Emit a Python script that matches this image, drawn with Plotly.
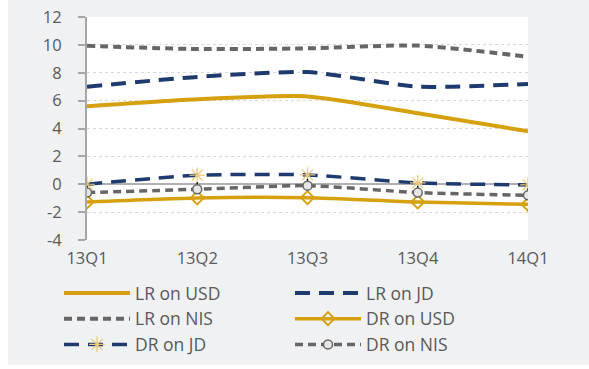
import plotly.graph_objects as go

categories = ["13Q1", "13Q2", "13Q3", "13Q4", "14Q1"]
lr_usd = [5.6, 6.1, 6.3, 5.1, 3.8]
lr_jd = [7.0, 7.7, 8.05, 7.0, 7.2]
lr_nis = [9.93, 9.7, 9.75, 9.95, 9.15]
dr_usd = [-1.27, -0.98, -0.96, -1.27, -1.44]
dr_jd = [0.0, 0.65, 0.67, 0.1, -0.05]
dr_nis = [-0.6, -0.36, -0.1, -0.6, -0.79]
dr_nis_bar = [0.5, 0.5, 0.5, 0.5, 0.5]
y_ticks = [-4, -2, 0, 2, 4, 6, 8, 10, 12]
y_labels = ["-4", "-2", "0", "2", "4", "6", "8", "10", "12"]

GOLD = "#D6A00F"
NAVY = "#1F3A6E"
GREY = "#666666"
FONT = "Open Sans"
TXT = "#595959"

PL, PR, PT, PB = 87, 528, 17, 240
PW, PH = PR - PL, PB - PT

fig = go.Figure()
fig.add_trace(go.Scatter(x=categories, y=lr_usd, name="LR on USD", mode="lines",
                         line=dict(color=GOLD, width=4, shape="spline", smoothing=0.6)))
fig.add_trace(go.Scatter(x=categories, y=lr_jd, name="LR on JD", mode="lines",
                         line=dict(color=NAVY, width=4, dash="15px,9px", shape="spline", smoothing=0.6)))
fig.add_trace(go.Scatter(x=categories, y=lr_nis, name="LR on NIS", mode="lines",
                         line=dict(color=GREY, width=4, dash="8px,5px", shape="spline", smoothing=0.6)))
fig.add_trace(go.Scatter(x=categories, y=dr_usd, name="DR on USD", mode="lines+markers",
                         line=dict(color=GOLD, width=3.5, shape="spline", smoothing=0.6),
                         marker=dict(symbol="diamond-open", size=10, color=GOLD, line=dict(width=2, color=GOLD))))
fig.add_trace(go.Scatter(x=categories, y=dr_jd, name="DR on JD", mode="lines+markers",
                         line=dict(color=NAVY, width=3.5, dash="15px,9px", shape="spline", smoothing=0.6),
                         marker=dict(symbol="asterisk-open", size=13, color="#EBC876", line=dict(width=1.2, color="#EBC876"))))
fig.add_trace(go.Scatter(x=categories, y=dr_nis, name="DR on NIS", mode="lines+markers",
                         line=dict(color=GREY, width=3.5, dash="8px,5px", shape="spline", smoothing=0.6),
                         error_y=dict(type="data", symmetric=False, array=dr_nis_bar,
                                      arrayminus=[0] * len(dr_nis_bar), width=0, color="#111111", thickness=1.5),
                         marker=dict(symbol="circle", size=9, color="#E6E6E6", line=dict(width=1.5, color=GREY))))

fig.update_layout(
    width=589, height=369,
    margin=dict(l=PL, r=589 - PR, t=PT, b=369 - PB, autoexpand=False),
    paper_bgcolor="#F0F1F3",
    plot_bgcolor="white",
    font=dict(family=FONT, size=16.5, color=TXT),
    showlegend=True,
    legend=dict(orientation="h", x=(59 - PL) / PW, xanchor="left", y=(PB - 275) / PH, yanchor="top",
                entrywidth=150, entrywidthmode="pixels", itemwidth=66,
                font=dict(size=17.5, color=TXT), bgcolor="rgba(0,0,0,0)", tracegroupgap=0),
    shapes=[
        dict(type="rect", xref="paper", yref="paper", x0=-0.5, x1=(8 - PL) / PW, y0=-1, y1=2,
             fillcolor="white", line=dict(width=0), layer="below"),
        dict(type="rect", xref="paper", yref="paper", x0=-0.5, x1=1.5, y0=(PB - 365) / PH, y1=-1,
             fillcolor="white", line=dict(width=0), layer="below"),
    ],
)
fig.update_xaxes(type="category", range=[0, 4], showgrid=False, showline=False, ticks="",
                 tickfont=dict(size=16.5, color=TXT), zeroline=False, automargin=False,
                 ticklabelstandoff=6)
fig.update_yaxes(range=[-4, 12], tickvals=y_ticks, ticktext=y_labels, showgrid=True,
                 gridcolor="#D9D9D9", griddash="dot",
                 gridwidth=1, showline=True, linecolor="#A6A6A6", linewidth=2, ticks="outside",
                 ticklen=7, tickcolor="#A6A6A6", tickwidth=2, ticklabelstandoff=13,
                 zeroline=True, zerolinecolor="#B0B0B0", zerolinewidth=1.5, automargin=False,
                 tickfont=dict(size=16.5, color=TXT))

fig.write_html("out.html")
